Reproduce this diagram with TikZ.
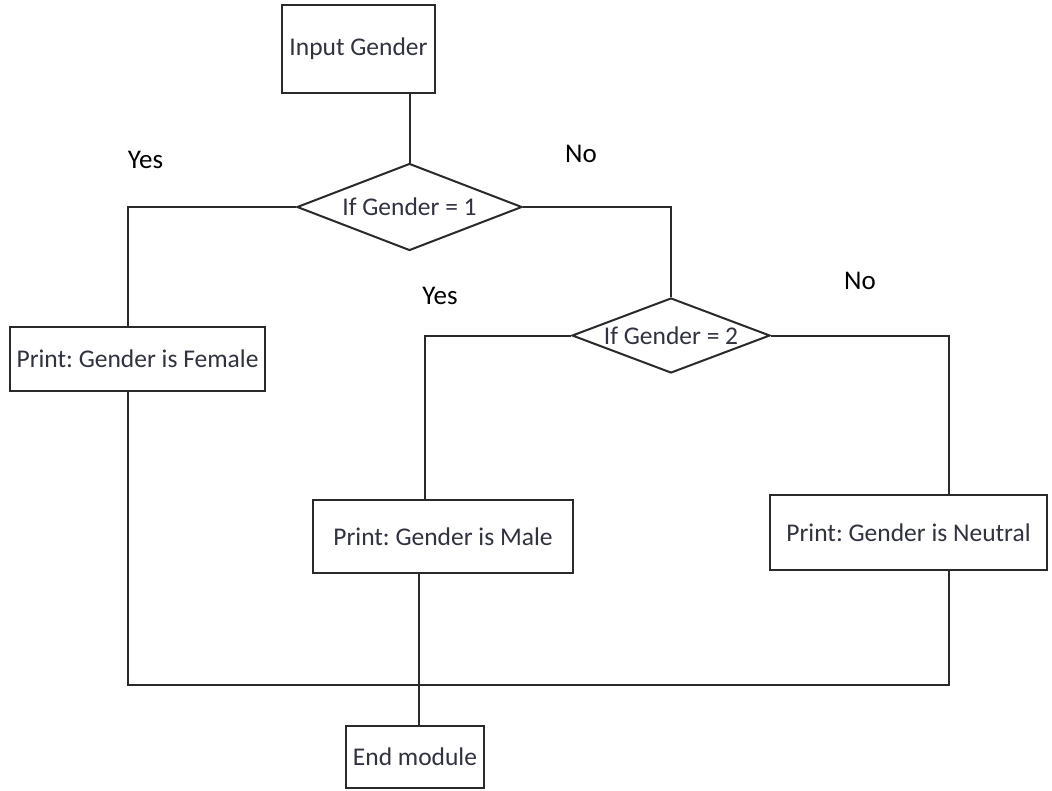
\documentclass[tikz,border=0pt]{standalone}
\usepackage{fontspec}
\setmainfont{Carlito}
\frenchspacing
\usetikzlibrary{shapes.geometric}
\definecolor{flowInk}{HTML}{2a2a2a}
\definecolor{flowText}{HTML}{30323f}
\tikzset{
  boxfont/.style={font=\fontsize{25.5}{30}\selectfont, text=flowText},
  stepbox/.style={rectangle, draw=flowInk, line width=2pt, fill=white,
              inner sep=0pt, boxfont},
  decide/.style={diamond, draw=flowInk, line width=2pt, fill=white,
              inner sep=0pt, aspect=2.6,
              label={[boxfont]center:#1}},
  answer/.style={font=\fontsize{27}{32}\selectfont, text=black, anchor=base},
  link/.style={draw=flowInk, line width=2pt},
}

\begin{document}
\begin{tikzpicture}[x=1pt,y=-1pt]
        \useasboundingbox (0,0) rectangle (1052,790);
        % columns of the connectors
        \coordinate (cL) at (128,0);
        \coordinate (cMt) at (425,0);
        \coordinate (cMb) at (419,0);
        \coordinate (cR) at (949,0);
        \coordinate (bus) at (0,685);
        \node[stepbox,minimum width=153pt,minimum height=88pt] (inp) at (358.5,49) {Input Gender};
        \node[decide={If Gender = 1},minimum width=225pt,minimum height=87pt] (d1) at (409.5,207) {};
        \node[stepbox,minimum width=255pt,minimum height=64pt] (fem) at (137.5,358.5) {Print: Gender is Female};
        \node[decide={If Gender = 2},minimum width=198pt,minimum height=75pt] (d2) at (671,335.5) {};
        \node[stepbox,minimum width=260pt,minimum height=73pt] (male) at (443,536.5) {Print: Gender is Male};
        \node[stepbox,minimum width=277pt,minimum height=75pt] (neu) at (908.5,532.5) {Print: Gender is Neutral};
        \node[stepbox,minimum width=138pt,minimum height=62pt] (endm) at (415,757) {End module};
        \node[answer] (y1) at (145.5,168) {Yes};
        \node[answer] (n1) at (581,162) {No};
        \node[answer] (y2) at (440,304) {Yes};
        \node[answer] (n2) at (860,289) {No};
        \draw[link] (inp.south -| d1.north) -- (d1.north);
        \draw[link] (d1.west) -| (cL |- fem.north);
        \draw[link] (d1.east) -| (d2.north);
        \draw[link] (d2.west) -| (cMt |- male.north);
        \draw[link] (d2.east) -| (cR |- neu.north);
        \draw[link] (cL |- fem.south) |- (cR |- bus) -- (cR |- neu.south);
        \draw[link] (cMb |- male.south) -- (cMb |- endm.north);
\end{tikzpicture}
\end{document}
